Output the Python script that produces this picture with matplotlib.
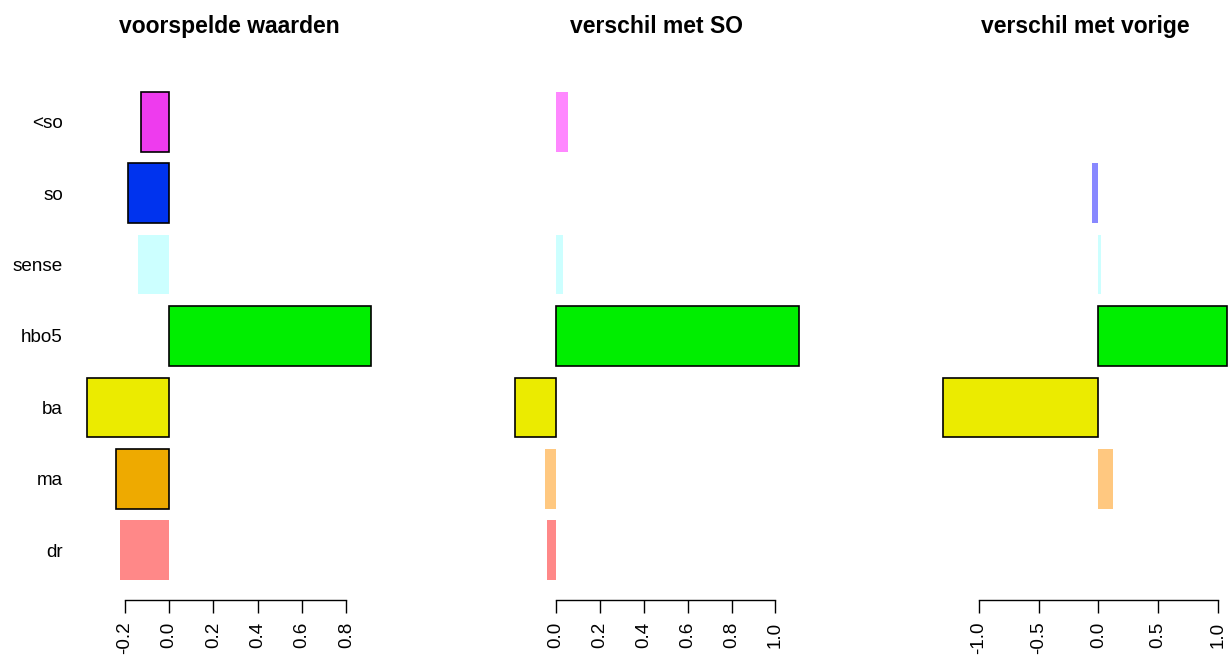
import numpy as np
import matplotlib
matplotlib.use("Agg")
import matplotlib.pyplot as plt

plt.rcParams['font.family'] = ['Liberation Sans', 'DejaVu Sans']

# ---- data ----
categories = ["<so", "so", "sense", "hbo5", "ba", "ma", "dr"]

voorspelde_waarden = [-0.128, -0.183, -0.141, 0.91, -0.368, -0.240, -0.222]
verschil_met_so = [0.053, 0.0, 0.033, 1.106, -0.186, -0.052, -0.040]
verschil_met_vorige = [np.nan, -0.05, 0.02, 1.075, -1.297, 0.12, 0.0]

significant_voorspeld = [True, True, False, True, True, True, False]
significant_so = [False, False, False, True, True, False, False]
significant_vorige = [False, False, False, True, True, False, False]

titles = ["voorspelde waarden", "verschil met SO", "verschil met vorige"]

ticks_voorspeld = [-0.2, 0.0, 0.2, 0.4, 0.6, 0.8]
ticks_so = [0.0, 0.2, 0.4, 0.6, 0.8, 1.0]
ticks_vorige = [-1.0, -0.5, 0.0, 0.5, 1.0]

# ---- styles ----
full_colors = ["#EE3BEE", "#0033EE", "#00EEEE", "#00EE00", "#EBEB00", "#EEAA00", "#EE2222"]
light_colors = ["#FF88FF", "#8888FF", "#CCFFFF", "#88FF88", "#FFFF88", "#FFC880", "#FF8888"]

W, H = 1231, 658
fig = plt.figure(figsize=(W / 100, H / 100), dpi=100)

panels = [
    (voorspelde_waarden, significant_voorspeld, ticks_voorspeld),
    (verschil_met_so, significant_so, ticks_so),
    (verschil_met_vorige, significant_vorige, ticks_vorige),
]

n = len(categories)
positions = 0.7 + 1.2 * np.arange(n)[::-1]

for i, ((values, sig, ticks), title) in enumerate(zip(panels, titles)):
    left_px = 76 + 428 * i
    ax = fig.add_axes([left_px / W, (H - 599.5) / H, 306 / W, 527 / H])
    vals = np.array(values, dtype=float)
    lo = min(np.nanmin(vals), np.nanmin(-0.01 * vals))
    hi = max(np.nanmax(vals), np.nanmax(-0.01 * vals))
    rng = hi - lo
    ax.set_xlim(lo - 0.04 * rng, hi + 0.04 * rng)
    ax.set_ylim(0.2 - 0.04 * 8.2, 8.4 + 0.04 * 8.2)

    for v, p, s, fc, lc in zip(vals, positions, sig, full_colors, light_colors):
        if np.isnan(v):
            continue
        if s:
            ax.barh(p, v, height=1.0, left=0, color=fc, edgecolor="black",
                    linewidth=1.2, zorder=2)
        else:
            ax.barh(p, v, height=1.0, left=0, color=lc, edgecolor="none",
                    linewidth=0, zorder=2)

    if i == 0:
        ax.set_yticks(positions)
        ax.set_yticklabels(categories)
    else:
        ax.set_yticks([])
    ax.tick_params(axis="y", length=0, pad=9.4, labelsize=13.6, colors="black")

    ax.set_xticks(ticks)
    ax.set_xticklabels([("%.1f" % t) if abs(t) > 1e-9 else "0.0" for t in ticks],
                       rotation=90)
    ax.tick_params(axis="x", length=9.4, width=1.0, pad=6.5, labelsize=13.6,
                   direction="out", colors="black")

    for s in ["top", "right", "left"]:
        ax.spines[s].set_visible(False)
    ax.spines["bottom"].set_bounds(ticks[0], ticks[-1])
    ax.spines["bottom"].set_linewidth(1.0)
    ax.patch.set_visible(False)

    ax.set_title(title, fontsize=16.5, fontweight="bold", pad=28.4)

fig.savefig("out.png", dpi=100)
